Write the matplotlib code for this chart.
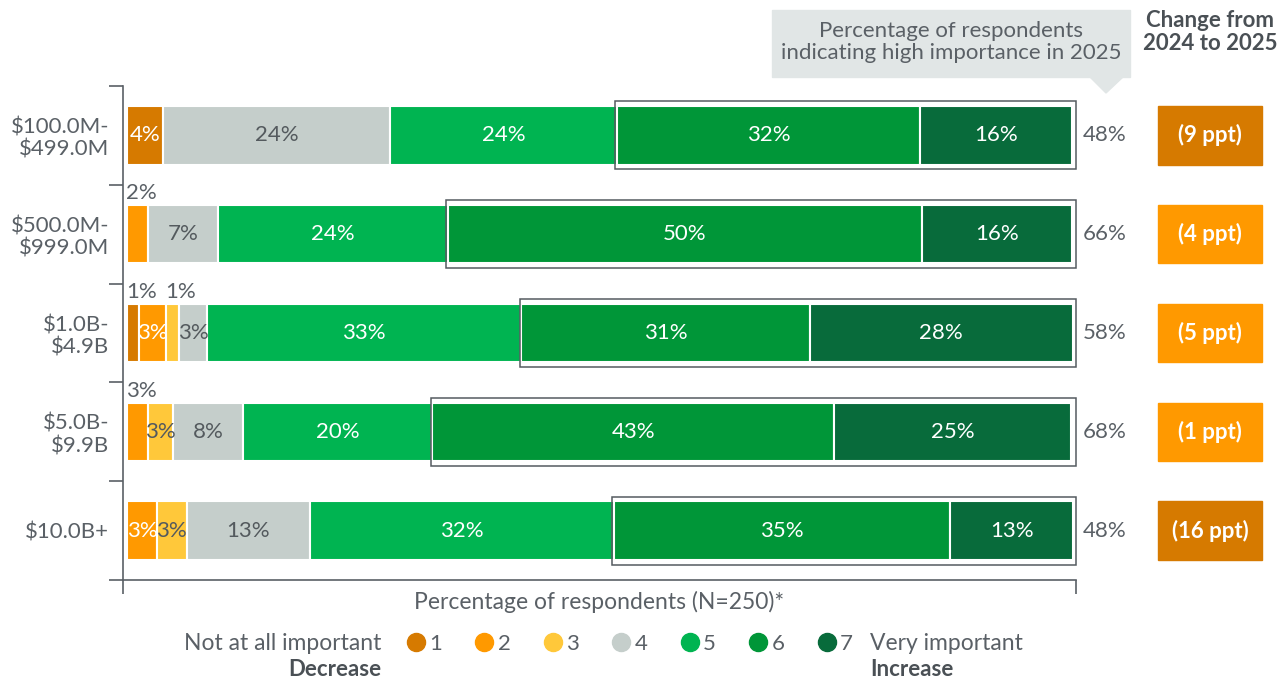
import numpy as np
import matplotlib.pyplot as plt
from matplotlib.patches import Rectangle, Polygon
from matplotlib.lines import Line2D
import matplotlib.transforms as mtransforms

plt.rcParams['font.family'] = ['Lato', 'DejaVu Sans']

# -----------------------------------------------------------------------------
# Datos (anchos leidos de las barras, etiquetas tal como aparecen)
# -----------------------------------------------------------------------------
categories = ["\\$100.0M-\n\\$499.0M", "\\$500.0M-\n\\$999.0M", "\\$1.0B-\n\\$4.9B",
              "\\$5.0B-\n\\$9.9B", "\\$10.0B+"]
levels = ["1", "2", "3", "4", "5", "6", "7"]

w1 = [3.8, 0, 1.2, 0, 0]
w2 = [0, 2.2, 2.9, 2.2, 3.1]
w3 = [0, 0, 1.4, 2.6, 3.2]
w4 = [24.0, 7.4, 2.9, 7.5, 13.0]
w5 = [24.0, 24.3, 33.3, 20.0, 32.2]
w6 = [32.1, 50.2, 30.5, 42.5, 35.6]
w7 = [16.1, 15.9, 27.9, 25.1, 13.0]

lab1 = ["4%", "", "1%", "", ""]
lab2 = ["", "2%", "3%", "3%", "3%"]
lab3 = ["", "", "1%", "3%", "3%"]
lab4 = ["24%", "7%", "3%", "8%", "13%"]
lab5 = ["24%", "24%", "33%", "20%", "32%"]
lab6 = ["32%", "50%", "31%", "43%", "35%"]
lab7 = ["16%", "16%", "28%", "25%", "13%"]

high_importance = ["48%", "66%", "58%", "68%", "48%"]
change = ["(9 ppt)", "(4 ppt)", "(5 ppt)", "(1 ppt)", "(16 ppt)"]
change_up = [False, True, True, True, False]

# -----------------------------------------------------------------------------
# Estilo
# -----------------------------------------------------------------------------
colors = ["#D67A00", "#FF9900", "#FFC83A", "#C5CECB", "#00B451", "#009638", "#086B3B"]
text_on = ["white", "white", "#545A5E", "#545A5E", "white", "white", "white"]
GRAY = "#5A6066"
DARK = "#4A5055"
FS = 16

widths = [w1, w2, w3, w4, w5, w6, w7]
labels = [lab1, lab2, lab3, lab4, lab5, lab6, lab7]

fig = plt.figure(figsize=(12.85, 6.81), dpi=100)
ax = fig.add_axes([123/1285, 1 - 580/681, 953/1285, (580 - 86)/681])

y = np.arange(len(categories))
left = np.zeros(len(categories))
h = 0.59
for k in range(7):
    w = np.array(widths[k])
    for i in range(len(categories)):
        if w[i] <= 0:
            continue
        ax.barh(y[i], w[i], left=left[i], height=h, color=colors[k],
                edgecolor="white", linewidth=1.5)
        txt = labels[k][i]
        if txt:
            if w[i] < 2.5:
                # barras estrechas: etiqueta encima
                ax.text(left[i] - 0.1, y[i] - h/2 - 0.02, txt, ha="left", va="bottom",
                        color=GRAY, fontsize=FS)
            else:
                ax.text(left[i] + w[i]/2, y[i], txt, ha="center", va="center",
                        color=text_on[k], fontsize=FS)
    left += w

# caja alrededor de 6+7
start6 = np.array(w1) + np.array(w2) + np.array(w3) + np.array(w4) + np.array(w5)
for i in range(len(categories)):
    ax.add_patch(Rectangle((start6[i] - 0.15, y[i] - h/2 - 0.05), 100.5 - start6[i] + 0.1,
                           h + 0.1, fill=False, edgecolor="#555B60", linewidth=1.1,
                           clip_on=False, zorder=3))

ax.set_xlim(-0.45, 100.4)
ax.set_ylim(4.5, -0.5)
ax.set_yticks(y)
ax.set_yticklabels(categories, fontsize=FS, color=GRAY, linespacing=1.15)
ax.tick_params(axis="y", length=0, pad=10)
ax.set_yticks(np.arange(-0.5, 5, 1), minor=True)
ax.tick_params(axis="y", which="minor", length=10, color=GRAY, width=1.2)
ax.set_xticks([-0.45, 100.4])
ax.set_xticklabels(["", ""])
ax.tick_params(axis="x", length=10, color=GRAY, width=1.2)
for s in ["top", "right"]:
    ax.spines[s].set_visible(False)
for s in ["left", "bottom"]:
    ax.spines[s].set_color(GRAY)
    ax.spines[s].set_linewidth(1.2)
ax.set_xlabel("Percentage of respondents (N=250)*", fontsize=FS + 0.5, color=GRAY,
              labelpad=-6)

# columna derecha: % alta importancia y cambio
tr = mtransforms.blended_transform_factory(ax.transAxes, ax.transData)
for i in range(len(categories)):
    ax.text(1.007, y[i], high_importance[i], transform=tr, ha="left", va="center",
            fontsize=FS, color=GRAY)
    c = "#FF9900" if change_up[i] else "#D67A00"
    ax.add_patch(Rectangle((1.086, y[i] - h/2), 0.109, h, transform=tr, color=c,
                           clip_on=False))
    ax.text(1.086 + 0.0545, y[i], change[i], transform=tr, ha="center", va="center",
            fontsize=FS, color="white", fontweight="bold")

# cabecera gris con pico
fig.patches.append(Rectangle((772/1285, 1 - 77/681), 358/1285, 67/681,
                             transform=fig.transFigure, color="#E1E6E6", zorder=0))
fig.patches.append(Polygon([(1090/1285, 1 - 77/681), (1123/1285, 1 - 77/681),
                            (1106/1285, 1 - 93/681)], closed=True,
                           transform=fig.transFigure, color="#E1E6E6", zorder=0))
fig.text(951/1285, 1 - 42/681, "Percentage of respondents\nindicating high importance in 2025",
         ha="center", va="center", fontsize=FS, color=GRAY, linespacing=1.15)
fig.text(1210/1285, 1 - 32/681, "Change from\n2024 to 2025", ha="center", va="center",
         fontsize=FS, color=DARK, fontweight="bold", linespacing=1.15)

# leyenda
handles = [Line2D([], [], marker="o", linestyle="", markersize=13, color=colors[k])
           for k in range(7)]
fig.legend(handles, levels, loc="center", bbox_to_anchor=(630/1285, 1 - 644/681), ncol=7,
           frameon=False, fontsize=FS, handlelength=0.8, handletextpad=0.2,
           columnspacing=1.5, labelcolor=GRAY)
fig.text(381/1285, 1 - 644/681, "Not at all important", ha="right", va="center",
         fontsize=FS + 0.5, color=GRAY)
fig.text(381/1285, 1 - 669/681, "Decrease", ha="right", va="center",
         fontsize=FS, color=DARK, fontweight="bold")
fig.text(870/1285, 1 - 644/681, "Very important", ha="left", va="center",
         fontsize=FS + 0.5, color=GRAY)
fig.text(870/1285, 1 - 669/681, "Increase", ha="left", va="center",
         fontsize=FS, color=DARK, fontweight="bold")

fig.savefig("out.png", dpi=100)
